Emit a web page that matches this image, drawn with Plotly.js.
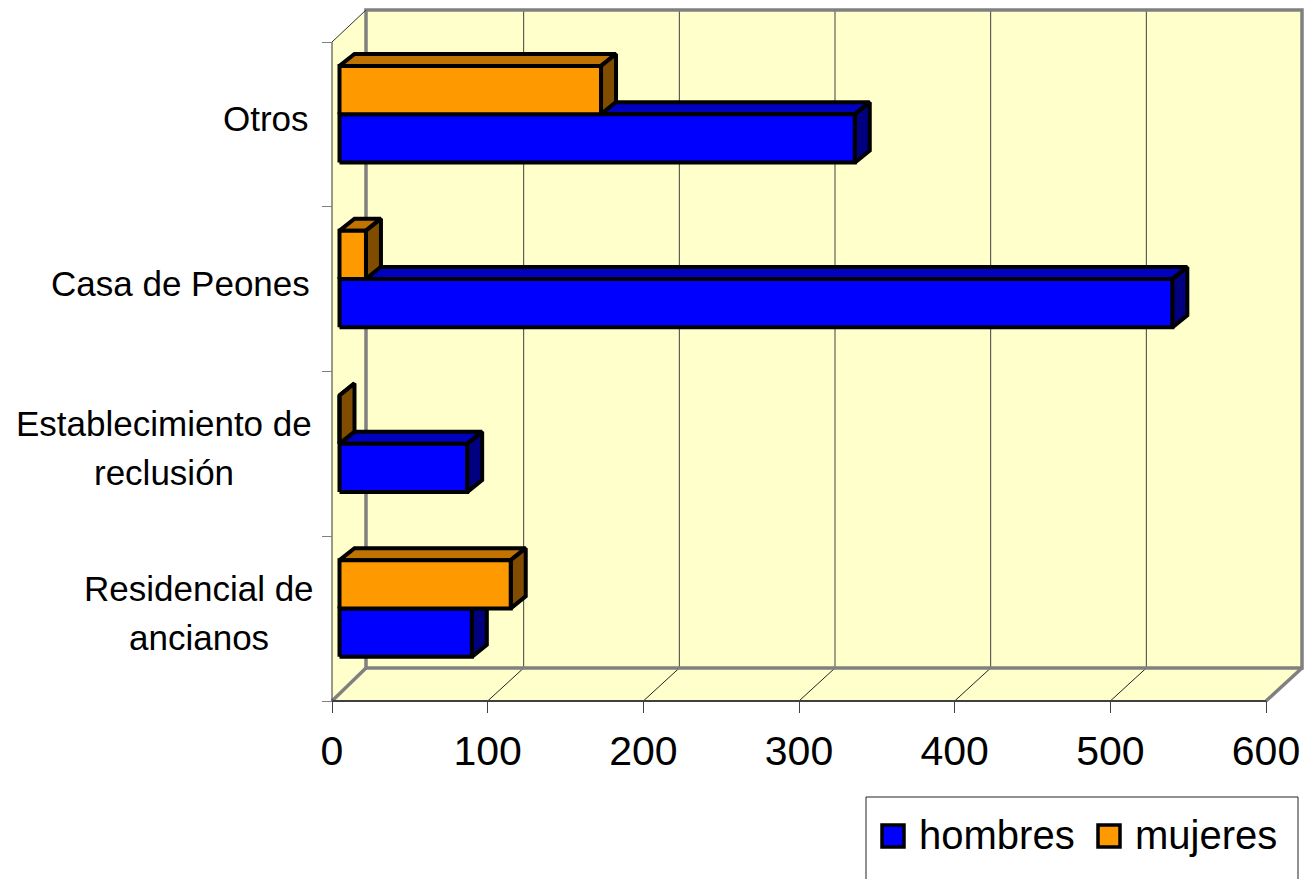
<!DOCTYPE html>
<html>
<head>
<meta charset="utf-8">
<script src="https://cdn.plot.ly/plotly-3.0.1.min.js"></script>
<style>html,body{margin:0;padding:0;background:#fff;overflow:hidden}</style>
</head>
<body>
<div id="chart" style="width:1312px;height:879px"></div>
<script>
const categories = ["Residencial de<br>ancianos", "Establecimiento de<br>reclusión", "Casa de Peones", "Otros"];
const hombres = [85, 82, 535, 331];
const mujeres = [110, 0, 17, 168];
const seriesNames = ["hombres", "mujeres"];
const valueTicks = [0, 100, 200, 300, 400, 500, 600];

const W = 1312, H = 879;
const origin = {x: 332, y: 701};
const plot = {l: 322, r: 1308, t: 4, b: 713};
const xPerPx = 600 / 934, yPerPx = 4 / 659;
const wallDX = 34 * xPerPx, wallDY = 33 * yPerPx, gridDX = 36 * xPerPx;
const xMax = (1302 - origin.x) * xPerPx, yMax = (origin.y - 10) * yPerPx;
const barDX = 15 * xPerPx, barDY = 12 * yPerPx;
const barX0 = 7.5 * xPerPx;
const bandLow = [0.268, 0.562], bandH = 0.293;
const labelHalfWidth = [113, 148, 132, 46];
const ink = "#000", edgeW = 4, gray = "#808080";

function polys(list) {
  const x = [], y = [];
  list.forEach(p => { p.forEach(q => { x.push(q[0]); y.push(q[1]); }); x.push(p[0][0], null); y.push(p[0][1], null); });
  return {x, y};
}
function segs(list) {
  const x = [], y = [];
  list.forEach(p => { p.forEach(q => { x.push(q[0]); y.push(q[1]); }); x.push(null); y.push(null); });
  return {x, y};
}
function fillTrace(list, color, lineColor, lw) {
  const d = polys(list);
  return {type: "scatter", mode: "lines", x: d.x, y: d.y, fill: "toself", fillcolor: color,
    line: {color: lineColor, width: lw}, hoverinfo: "skip", showlegend: false};
}
function lineTrace(list, color, lw) {
  const d = segs(list);
  return {type: "scatter", mode: "lines", x: d.x, y: d.y, line: {color: color, width: lw},
    hoverinfo: "skip", showlegend: false};
}
function barFaces(values, slot, colors) {
  const fronts = [], tops = [], sides = [];
  values.forEach((v, i) => {
    const y0 = i + bandLow[slot], y1 = y0 + bandH, x0 = barX0, x1 = barX0 + v;
    fronts.push([[x0,y0],[x1,y0],[x1,y1],[x0,y1]]);
    tops.push([[x0,y1],[x1,y1],[x1+barDX,y1+barDY],[x0+barDX,y1+barDY]]);
    sides.push([[x1,y0],[x1+barDX,y0+barDY],[x1+barDX,y1+barDY],[x1,y1]]);
  });
  return [fillTrace(tops, colors[1], ink, edgeW), fillTrace(sides, colors[2], ink, edgeW), fillTrace(fronts, colors[0], ink, edgeW)];
}

const wallColor = "#FFFFCC";
const blues = ["#0000FF", "#0000C0", "#000080"];
const oranges = ["#FF9900", "#C07300", "#804D00"];
const top4 = categories.length;

const traces = [
  fillTrace([[[wallDX,wallDY],[xMax,wallDY],[xMax,yMax],[wallDX,yMax]]], wallColor, wallColor, 0),
  fillTrace([[[0,0],[wallDX,wallDY],[wallDX,yMax],[0,top4]]], wallColor, wallColor, 0),
  fillTrace([[[0,0],[600,0],[xMax,wallDY],[wallDX,wallDY]]], wallColor, wallColor, 0),
  lineTrace(valueTicks.slice(1, -1).map(v => [[v+gridDX,wallDY],[v+gridDX,yMax]]), "#404040", 1),
  lineTrace(valueTicks.slice(1, -1).map(v => [[v,0],[v+gridDX,wallDY]]), "#222", 1),
  lineTrace([[[wallDX,wallDY],[wallDX,yMax],[xMax,yMax],[xMax,wallDY],[wallDX,wallDY]],
             [[0,0],[wallDX,wallDY]], [[600,0],[xMax,wallDY]]], gray, 3.5),
  lineTrace([[[0,0],[0,top4],[wallDX,yMax]]], "#333", 1),
  lineTrace([[[0,0],[600,0]]], "#404040", 2),
  ...barFaces(hombres, 0, blues),
  ...barFaces(mujeres, 1, oranges),
  {type: "scatter", mode: "markers", name: seriesNames[0], x: [null], y: [null],
    marker: {symbol: "square", size: 6, color: blues[0], line: {width: 0}}},
  {type: "scatter", mode: "markers", name: seriesNames[1], x: [null], y: [null],
    marker: {symbol: "square", size: 6, color: oranges[0], line: {width: 0}}}
];

const plotW = plot.r - plot.l, plotH = plot.b - plot.t;
const px = v => (v - plot.l) / plotW;
const py = v => (plot.b - v) / plotH;
const swatch = (cx, color) => ({type: "rect", xref: "paper", yref: "paper", layer: "above",
  x0: px(cx - 11), x1: px(cx + 11), y0: py(847), y1: py(825),
  fillcolor: color, line: {color: ink, width: 3.5}});

const labelAnnotations = [];
categories.forEach((c, i) => {
  const lines = c.split("<br>");
  lines.forEach((t, k) => labelAnnotations.push({
    text: t, xref: "x", yref: "y", x: 0, y: i + 0.5, xanchor: "center", yanchor: "middle",
    xshift: -(20 + labelHalfWidth[i]), yshift: 6 + ((lines.length - 1) / 2 - k) * 49,
    showarrow: false, font: {size: 35, color: "#000"}
  }));
});

const layout = {
  width: W, height: H, paper_bgcolor: "#fff", plot_bgcolor: "rgba(0,0,0,0)",
  margin: {l: plot.l, r: W - plot.r, t: plot.t, b: H - plot.b, pad: 0, autoexpand: false},
  font: {family: "Liberation Sans, Arial, sans-serif", color: "#000"},
  xaxis: {range: [(plot.l - origin.x) * xPerPx, (plot.r - origin.x) * xPerPx], tickmode: "array", tickvals: valueTicks, ticks: "inside", ticklen: 12,
    tickwidth: 1, tickcolor: "#404040", tickfont: {size: 41}, ticklabelstandoff: 10, showgrid: false, zeroline: false, showline: false, fixedrange: true, automargin: false},
  yaxis: {range: [(origin.y - plot.b) * yPerPx, (origin.y - plot.t) * yPerPx], tickmode: "array", tickvals: categories.map((c, i) => i).concat(top4), ticks: "inside", ticklen: 10,
    tickwidth: 1, tickcolor: "#808080", showticklabels: false, showgrid: false, zeroline: false, showline: false, fixedrange: true, automargin: false},
  annotations: labelAnnotations,
  shapes: [
    {type: "rect", xref: "paper", yref: "paper", layer: "below", x0: px(866), x1: px(1298), y0: py(900), y1: py(797),
      fillcolor: "#fff", line: {color: "#222", width: 1}},
    swatch(893, blues[0]), swatch(1109, oranges[0])
  ],
  legend: {orientation: "h", x: px(867), xanchor: "left", y: py(801), yanchor: "top",
    bgcolor: "rgba(0,0,0,0)", borderwidth: 0, font: {size: 40, color: "#000"},
    itemwidth: 42, entrywidthmode: "pixels", entrywidth: 159, itemclick: false, itemdoubleclick: false},
  showlegend: true
};
Plotly.newPlot("chart", traces, layout, {displayModeBar: false, responsive: false});
</script>
</body>
</html>
